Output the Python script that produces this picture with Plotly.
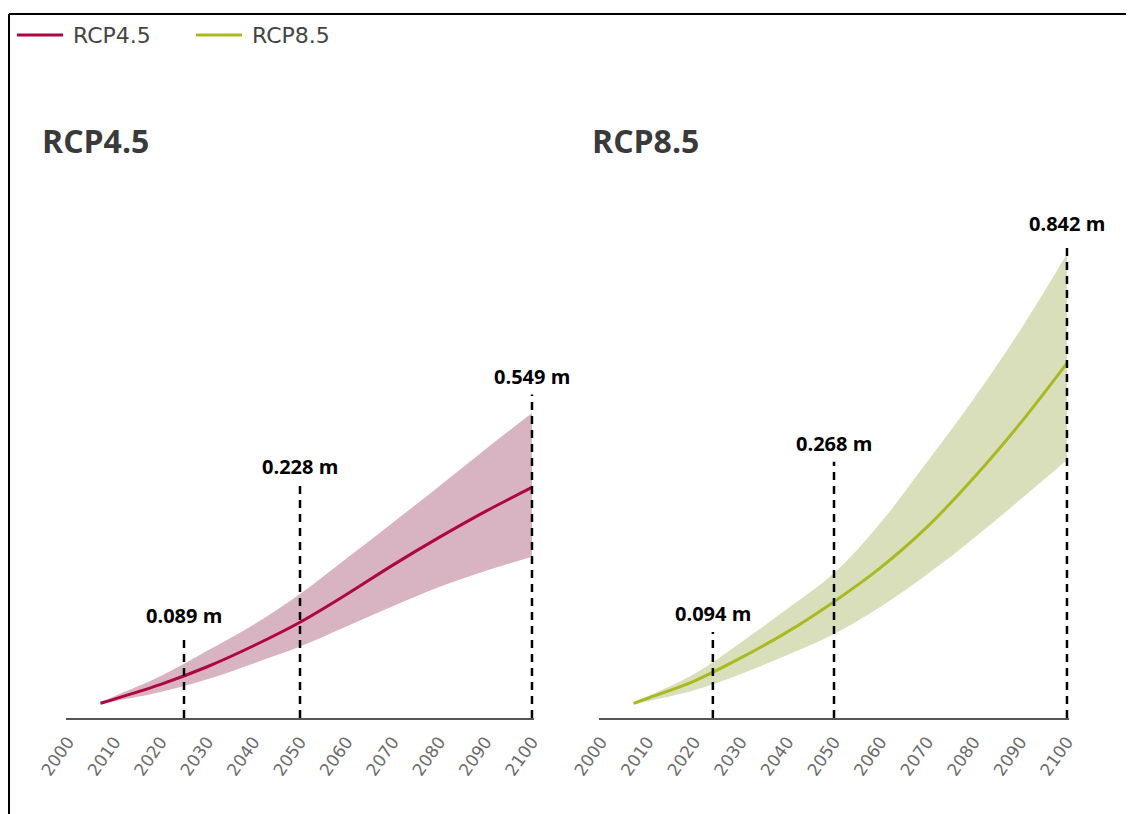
import plotly.graph_objects as go

# years sampled along the projection curves
years = [2007, 2010, 2020, 2030, 2040, 2050, 2060, 2070, 2080, 2090, 2100]

# RCP4.5 sea level rise (m): median and likely range
rcp45_mid = [0.035, 0.045, 0.080, 0.122, 0.172, 0.228, 0.294, 0.364, 0.430, 0.492, 0.549]
rcp45_upper = [0.038, 0.052, 0.100, 0.160, 0.222, 0.295, 0.380, 0.465, 0.552, 0.640, 0.726]
rcp45_lower = [0.032, 0.040, 0.062, 0.092, 0.130, 0.170, 0.218, 0.266, 0.312, 0.350, 0.384]

# RCP8.5 sea level rise (m)
rcp85_mid = [0.035, 0.047, 0.088, 0.143, 0.205, 0.277, 0.358, 0.455, 0.572, 0.702, 0.845]
rcp85_upper = [0.038, 0.052, 0.105, 0.180, 0.260, 0.345, 0.465, 0.610, 0.760, 0.924, 1.105]
rcp85_lower = [0.032, 0.040, 0.066, 0.105, 0.150, 0.200, 0.265, 0.342, 0.428, 0.520, 0.614]

# highlighted years and their values
mark45_years = [2025, 2050, 2100]
mark45_values = [0.089, 0.228, 0.549]
mark85_years = [2024, 2050, 2100]
mark85_values = [0.094, 0.268, 0.842]

# how high the dashed guides reach (m)
guide45_top = [0.20, 0.555, 0.77]
guide85_top = [0.205, 0.61, 1.133]

tick_years = list(range(2000, 2101, 10))
scenarios = ["RCP4.5", "RCP8.5"]

# the page body has an 8px margin, so the figure is a bit smaller and shifted
W, H = 1126, 806
OFF = 8


def px(x):
    return (x - OFF) / W


def py(y):
    return 1 - (y - OFF) / H


C45, C45_BAND = "#b0063f", "#d8b3c1"
C85, C85_BAND = "#a9ba1e", "#d9dfbb"

fig = go.Figure()


def add_panel(xa, ya, mid, upper, lower, color, band, name, myears, mvals, tops):
    fig.add_trace(go.Scatter(x=years, y=upper, mode="lines", line=dict(width=0, shape="spline"),
                             xaxis=xa, yaxis=ya, showlegend=False, hoverinfo="skip"))
    fig.add_trace(go.Scatter(x=years, y=lower, mode="lines", line=dict(width=0, shape="spline"),
                             fill="tonexty", fillcolor=band,
                             xaxis=xa, yaxis=ya, showlegend=False, hoverinfo="skip"))
    fig.add_trace(go.Scatter(x=years, y=mid, mode="lines", name=name, showlegend=False,
                             line=dict(color=color, width=3, shape="spline"),
                             xaxis=xa, yaxis=ya))
    for yr, v, top in zip(myears, mvals, tops):
        fig.add_trace(go.Scatter(x=[yr, yr], y=[0, top], mode="lines",
                                 line=dict(color="black", width=2.5, dash="8px,6px"),
                                 xaxis=xa, yaxis=ya, showlegend=False, hoverinfo="skip"))
        fig.add_annotation(x=yr, y=top, xref=xa, yref=ya, text=f"<b>{v:.3f} m</b>",
                           showarrow=False, yanchor="bottom", yshift=3,
                           font=dict(family="Open Sans", size=20, color="black"))


add_panel("x", "y", rcp45_mid, rcp45_upper, rcp45_lower, C45, C45_BAND, scenarios[0],
          mark45_years, mark45_values, guide45_top)
add_panel("x2", "y2", rcp85_mid, rcp85_upper, rcp85_lower, C85, C85_BAND, scenarios[1],
          mark85_years, mark85_values, guide85_top)

xax = dict(range=[1999.5, 2100.5], tickvals=tick_years, tickangle=-55, showgrid=False,
           zeroline=False, showline=True, linecolor="#555555", linewidth=2, ticks="",
           automargin=False, ticklabelstandoff=5,
           tickfont=dict(family="DejaVu Sans", size=17, color="#6b6b6b"))
yax = dict(range=[0, 1.2], visible=False, automargin=False, domain=[py(718), py(214)])

shapes = [
    # frame (top and left edges)
    dict(type="line", xref="paper", yref="paper", x0=px(9), x1=1, y0=py(14), y1=py(14),
         line=dict(color="black", width=2)),
    dict(type="line", xref="paper", yref="paper", x0=px(9), x1=px(9), y0=0, y1=py(14),
         line=dict(color="black", width=2)),
]

# hand-drawn legend with long line samples
for label, color, x0 in [(scenarios[0], C45, 17), (scenarios[1], C85, 196)]:
    shapes.append(dict(type="line", xref="paper", yref="paper", x0=px(x0), x1=px(x0 + 46),
                       y0=py(35), y1=py(35), line=dict(color=color, width=3)))
    fig.add_annotation(x=px(x0 + 54), y=py(35), xref="paper", yref="paper", text=label,
                       showarrow=False, xanchor="left", yanchor="middle",
                       font=dict(family="DejaVu Sans", size=22, color="#444444"))

fig.update_layout(
    width=W, height=H,
    margin=dict(l=0, r=0, t=0, b=0, autoexpand=False),
    paper_bgcolor="white", plot_bgcolor="white",
    showlegend=False,
    xaxis=dict(xax, domain=[px(65.7), px(534.3)]),
    xaxis2=dict(xax, domain=[px(598.7), px(1069.3)], anchor="y2"),
    yaxis=yax,
    yaxis2=dict(yax, anchor="x2"),
    shapes=shapes,
)

for label, xpos in [(scenarios[0], 40), (scenarios[1], 590)]:
    fig.add_annotation(x=px(xpos), y=py(140), xref="paper", yref="paper",
                       text=f"<b>{label}</b>", showarrow=False, xanchor="left", yanchor="middle",
                       font=dict(family="Open Sans", size=32, color="#3a3a3a"))

fig.write_html("out.html")
